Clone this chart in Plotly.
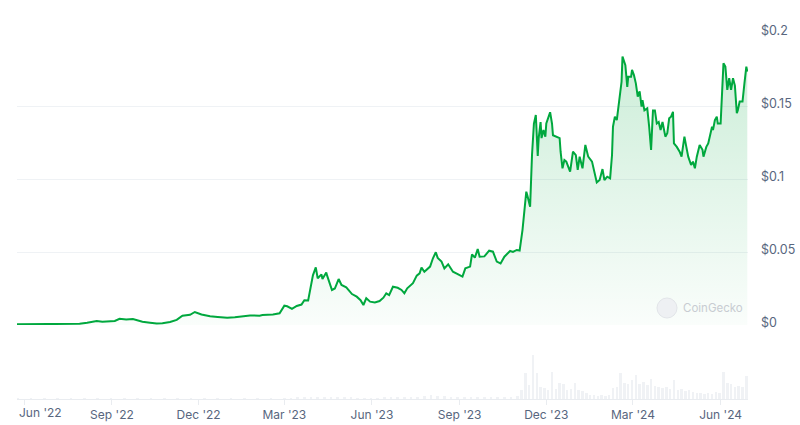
import plotly.graph_objects as go
import pandas as pd

# ---------------- data ----------------
price_dates = [
    "2022-05-24", "2022-06-17", "2022-07-08", "2022-07-29", "2022-08-06", "2022-08-12", "2022-08-16",
    "2022-08-22", "2022-08-30", "2022-09-04", "2022-09-09", "2022-09-16", "2022-09-23", "2022-09-28",
    "2022-10-03", "2022-10-11", "2022-10-18", "2022-10-24", "2022-11-01", "2022-11-08", "2022-11-14",
    "2022-11-22", "2022-11-27", "2022-12-04", "2022-12-13", "2022-12-21", "2022-12-31", "2023-01-08",
    "2023-01-13", "2023-01-24", "2023-02-03", "2023-02-06", "2023-02-17", "2023-02-24", "2023-03-01",
    "2023-03-04", "2023-03-09", "2023-03-14", "2023-03-19", "2023-03-22", "2023-03-26", "2023-03-28",
    "2023-03-31", "2023-04-03", "2023-04-05", "2023-04-09", "2023-04-10", "2023-04-14", "2023-04-15",
    "2023-04-20", "2023-04-23", "2023-04-27", "2023-04-30", "2023-05-05", "2023-05-11", "2023-05-16",
    "2023-05-20", "2023-05-23", "2023-05-26", "2023-05-30", "2023-06-04", "2023-06-09", "2023-06-13",
    "2023-06-16", "2023-06-19", "2023-06-23", "2023-06-28", "2023-07-02", "2023-07-05", "2023-07-08",
    "2023-07-14", "2023-07-18", "2023-07-21", "2023-07-23", "2023-07-26", "2023-08-01", "2023-08-04",
    "2023-08-07", "2023-08-09", "2023-08-13", "2023-08-16", "2023-08-20", "2023-08-25", "2023-08-30",
    "2023-09-04", "2023-09-07", "2023-09-12", "2023-09-14", "2023-09-17", "2023-09-20", "2023-09-22",
    "2023-09-27", "2023-10-02", "2023-10-06", "2023-10-10", "2023-10-14", "2023-10-18", "2023-10-24",
    "2023-10-27", "2023-10-31", "2023-11-03", "2023-11-06", "2023-11-07", "2023-11-10", "2023-11-11",
    "2023-11-14", "2023-11-16", "2023-11-18", "2023-11-20", "2023-11-22", "2023-11-23", "2023-11-25",
    "2023-11-26", "2023-11-28", "2023-11-30", "2023-12-01", "2023-12-05", "2023-12-07", "2023-12-08",
    "2023-12-12", "2023-12-15", "2023-12-16", "2023-12-18", "2023-12-20", "2023-12-22", "2023-12-26",
    "2023-12-29", "2024-01-01", "2024-01-03", "2024-01-05", "2024-01-08", "2024-01-11", "2024-01-14",
    "2024-01-18", "2024-01-21", "2024-01-23", "2024-01-26", "2024-01-29", "2024-01-31", "2024-02-03",
    "2024-02-06", "2024-02-08", "2024-02-09", "2024-02-11", "2024-02-13", "2024-02-15", "2024-02-18",
    "2024-02-19", "2024-02-22", "2024-02-24", "2024-02-25", "2024-02-28", "2024-02-29", "2024-03-02",
    "2024-03-04", "2024-03-06", "2024-03-08", "2024-03-10", "2024-03-11", "2024-03-13", "2024-03-16",
    "2024-03-18", "2024-03-20", "2024-03-22", "2024-03-24", "2024-03-26", "2024-03-28", "2024-03-30",
    "2024-04-01", "2024-04-04", "2024-04-06", "2024-04-08", "2024-04-10", "2024-04-12", "2024-04-13",
    "2024-04-16", "2024-04-19", "2024-04-21", "2024-04-24", "2024-04-26", "2024-04-28", "2024-05-01",
    "2024-05-03", "2024-05-05", "2024-05-07", "2024-05-10", "2024-05-13", "2024-05-14", "2024-05-17",
    "2024-05-19", "2024-05-23", "2024-05-24", "2024-05-26", "2024-05-28", "2024-05-29", "2024-06-01",
    "2024-06-03", "2024-06-04", "2024-06-06", "2024-06-08", "2024-06-10", "2024-06-12", "2024-06-14",
    "2024-06-16", "2024-06-18", "2024-06-19", "2024-06-21", "2024-06-24", "2024-06-26", "2024-06-28",
    "2024-06-29",
]
price_values = [
    0.0005, 0.0005, 0.0006, 0.0008, 0.0015, 0.0020, 0.0027,
    0.0022, 0.0023, 0.0028, 0.0043, 0.0038, 0.0041, 0.0033,
    0.0022, 0.0016, 0.0011, 0.0012, 0.0020, 0.0035, 0.0064,
    0.0070, 0.0089, 0.0072, 0.0060, 0.0055, 0.0050, 0.0053,
    0.0058, 0.0065, 0.0064, 0.0068, 0.0072, 0.0080, 0.0132,
    0.0128, 0.0110, 0.0130, 0.0140, 0.0170, 0.0168, 0.0228,
    0.0340, 0.0395, 0.0320, 0.0347, 0.0315, 0.0360, 0.0336,
    0.0240, 0.0250, 0.0315, 0.0274, 0.0258, 0.0212, 0.0194,
    0.0170, 0.0137, 0.0183, 0.0160, 0.0155, 0.0164, 0.0187,
    0.0217, 0.0205, 0.0262, 0.0255, 0.0240, 0.0217, 0.0251,
    0.0286, 0.0338, 0.0354, 0.0393, 0.0365, 0.0400, 0.0457,
    0.0498, 0.0460, 0.0434, 0.0388, 0.0416, 0.0365, 0.0349,
    0.0331, 0.0388, 0.0400, 0.0484, 0.0461, 0.0520, 0.0468,
    0.0470, 0.0509, 0.0502, 0.0434, 0.0422, 0.0468, 0.0507,
    0.0500, 0.0514, 0.0510, 0.0650, 0.0708, 0.0913, 0.0890,
    0.0810, 0.1164, 0.1380, 0.1438, 0.1158, 0.1280, 0.1390,
    0.1280, 0.1336, 0.1290, 0.1380, 0.1457, 0.1380, 0.1300,
    0.1290, 0.1280, 0.1187, 0.1073, 0.1130, 0.1119, 0.1050,
    0.1187, 0.1164, 0.1062, 0.1153, 0.1073, 0.1233, 0.1153,
    0.1119, 0.1027, 0.0977, 0.0993, 0.1068, 0.0993, 0.1016,
    0.1005, 0.1164, 0.1358, 0.1427, 0.1404, 0.1518, 0.1666,
    0.1838, 0.1780, 0.1630, 0.1700, 0.1700, 0.1747, 0.1712,
    0.1655, 0.1564, 0.1600, 0.1495, 0.1540, 0.1470, 0.1484,
    0.1358, 0.1199, 0.1470, 0.1470, 0.1380, 0.1390, 0.1336,
    0.1390, 0.1290, 0.1313, 0.1416, 0.1427, 0.1460, 0.1244,
    0.1220, 0.1187, 0.1153, 0.1290, 0.1220, 0.1153, 0.1096,
    0.1119, 0.1073, 0.1153, 0.1233, 0.1200, 0.1153, 0.1220,
    0.1244, 0.1358, 0.1336, 0.1404, 0.1427, 0.1380, 0.1380,
    0.1610, 0.1792, 0.1770, 0.1610, 0.1690, 0.1610, 0.1690,
    0.1640, 0.1450, 0.1470, 0.1530, 0.1530, 0.1655, 0.1770,
    0.1735,
]

volume_dates = [
    "2022-05-25", "2022-06-08", "2022-06-22", "2022-07-06", "2022-07-20", "2022-08-03", "2022-08-17",
    "2022-08-31", "2022-09-14", "2022-09-28", "2022-10-12", "2022-10-26", "2022-11-09", "2022-11-23",
    "2022-12-07", "2022-12-21", "2023-01-04", "2023-01-18", "2023-02-01", "2023-02-15",
    "2023-03-01", "2023-03-08", "2023-03-15", "2023-03-22", "2023-03-29", "2023-04-05", "2023-04-12",
    "2023-04-19", "2023-04-26", "2023-05-03", "2023-05-10", "2023-05-17", "2023-05-24", "2023-05-31",
    "2023-06-07", "2023-06-14", "2023-06-21", "2023-06-28", "2023-07-05", "2023-07-12", "2023-07-19",
    "2023-07-26", "2023-08-02", "2023-08-09", "2023-08-16", "2023-08-23", "2023-08-30", "2023-09-06",
    "2023-09-13", "2023-09-20", "2023-09-27", "2023-10-04", "2023-10-11", "2023-10-18", "2023-10-25",
    "2023-11-01", "2023-11-05", "2023-11-09", "2023-11-13", "2023-11-17", "2023-11-21", "2023-11-25",
    "2023-11-29", "2023-12-03", "2023-12-07", "2023-12-11", "2023-12-15", "2023-12-19", "2023-12-23",
    "2023-12-27", "2023-12-31", "2024-01-04", "2024-01-08", "2024-01-12", "2024-01-16", "2024-01-20",
    "2024-01-24", "2024-01-28", "2024-02-01", "2024-02-05", "2024-02-09", "2024-02-13", "2024-02-17",
    "2024-02-21", "2024-02-25", "2024-02-29", "2024-03-04", "2024-03-08", "2024-03-12", "2024-03-16",
    "2024-03-20", "2024-03-24", "2024-03-28", "2024-04-01", "2024-04-05", "2024-04-09", "2024-04-13",
    "2024-04-17", "2024-04-21", "2024-04-25", "2024-04-29", "2024-05-03", "2024-05-07", "2024-05-11",
    "2024-05-15", "2024-05-19", "2024-05-23", "2024-05-27", "2024-05-31", "2024-06-04", "2024-06-08",
    "2024-06-12", "2024-06-16", "2024-06-20", "2024-06-24", "2024-06-28",
]
volume_values = [
    0.2, 0.2, 0.2, 0.2, 0.2, 0.4, 0.6,
    0.5, 0.6, 0.5, 0.3, 0.3, 0.5, 0.8,
    0.6, 0.4, 0.4, 0.4, 0.5, 0.7,
    1.0, 1.0, 1.5, 2.0, 2.5, 2.5, 2.0,
    1.5, 1.5, 1.5, 1.2, 1.0, 1.0, 1.0,
    1.0, 1.2, 1.5, 1.5, 2.0, 2.0, 2.5,
    3.0, 4.0, 3.0, 3.0, 2.5, 2.0, 2.0,
    2.0, 2.5, 2.0, 1.5, 1.5, 2.0, 2.0,
    3, 9, 26, 14, 44, 26, 12,
    11, 9, 27, 10, 16, 15, 9,
    10, 16, 9, 8, 6, 4, 4,
    3, 4, 3, 4, 11, 12, 26,
    16, 15, 19, 24, 15, 17, 14,
    20, 13, 12, 11, 12, 10, 19,
    9, 10, 8, 9, 7, 6, 6,
    5, 6, 5, 7, 6, 27, 16,
    15, 12, 13, 12, 23,
]

x_tick_labels = ["Jun '22", "Sep '22", "Dec '22", "Mar '23", "Jun '23",
                 "Sep '23", "Dec '23", "Mar '24", "Jun '24"]
x_tick_dates = ["2022-06-01", "2022-09-01", "2022-12-01", "2023-03-01", "2023-06-01",
                "2023-09-01", "2023-12-01", "2024-03-01", "2024-06-01"]

y_tick_values = [0, 0.05, 0.1, 0.15, 0.2]
y_tick_labels = ["$0", "$0.05", "$0.1", "$0.15", "$0.2"]

# ---------------- styling ----------------
GREEN = "#00a83e"
LABEL = "#58667e"
GRID = "#eff2f5"
FONT = "Inter, 'Open Sans', sans-serif"

fig = go.Figure()

fig.add_trace(go.Bar(
    x=pd.to_datetime(volume_dates), y=volume_values,
    xaxis="x", yaxis="y2",
    marker=dict(color="#f0f2f5", line=dict(width=0)),
    width=2.6 * 86400000,
    hoverinfo="skip", showlegend=False,
))

fig.add_trace(go.Scatter(
    x=pd.to_datetime(price_dates), y=price_values,
    xaxis="x", yaxis="y",
    mode="lines",
    line=dict(color=GREEN, width=2),
    fill="tozeroy",
    fillgradient=dict(type="vertical",
                      colorscale=[[0, "rgba(0,168,62,0.02)"], [1, "rgba(0,168,62,0.20)"]]),
    hoverinfo="skip", showlegend=False,
))

ticktext = [""] + x_tick_labels[1:]

fig.update_layout(
    width=800, height=425,
    margin=dict(l=17, r=52, t=33, b=26, autoexpand=False),
    paper_bgcolor="white", plot_bgcolor="white",
    font=dict(family=FONT, size=12, color=LABEL),
    bargap=0,
    xaxis=dict(
        type="date",
        range=["2022-05-24 08:00", "2024-06-29 18:00"],
        tickvals=pd.to_datetime(x_tick_dates), ticktext=ticktext,
        showgrid=False, zeroline=False,
        showline=True, linecolor="#e9ecf0", linewidth=1,
        ticks="outside", ticklen=5, tickcolor="#e9ecf0",
        anchor="y2",
        automargin=False,
        tickfont=dict(size=12, color=LABEL),
    ),
    yaxis=dict(
        domain=[0.2022, 1.0],
        range=[0, 0.2],
        side="right",
        anchor="x",
        tickvals=y_tick_values,
        ticktext=y_tick_labels,
        showgrid=True, gridcolor=GRID, gridwidth=1,
        zeroline=False, showline=False,
        ticks="",
        automargin=False,
        ticklabelstandoff=12,
        ticklabelshift=-2,
        tickfont=dict(size=12.5, color=LABEL),
    ),
    yaxis2=dict(
        domain=[0, 0.1366],
        range=[0, 50],
        anchor="x",
        visible=False,
    ),
)

# first x label pushed inside like the original
fig.add_annotation(
    x=0, xref="paper", xanchor="left",
    y=0, yref="paper", yanchor="top", yshift=-4,
    text=x_tick_labels[0], showarrow=False,
    font=dict(size=12, color=LABEL, family=FONT),
)

# watermark
fig.add_shape(type="circle", xref="paper", yref="paper",
              x0=0.8755, x1=0.9029, y0=0.2213, y1=0.2760,
              fillcolor="#eef0f3", line=dict(color="#e2e5e9", width=1), layer="above")
fig.add_annotation(
    x=0.9083, xref="paper", xanchor="left",
    y=0.2486, yref="paper", yanchor="middle",
    text="CoinGecko", showarrow=False,
    font=dict(size=11.5, color="#c8ccd2", family=FONT),
)

fig.write_html("out.html")
